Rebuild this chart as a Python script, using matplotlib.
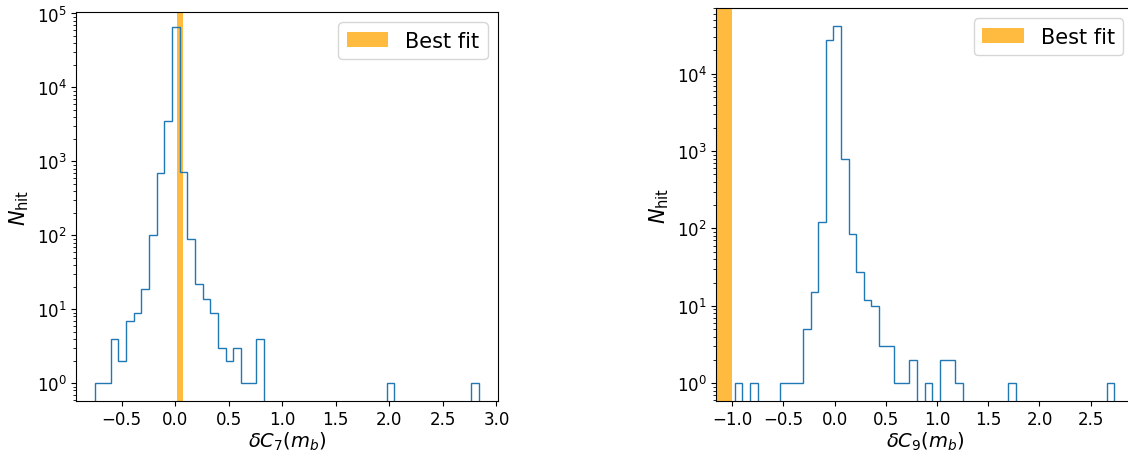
import matplotlib
matplotlib.use("Agg")
import matplotlib.pyplot as plt
from matplotlib.ticker import MultipleLocator
import numpy as np

# histogram of delta C7 (50 bins)
c7_range = (-0.746, 2.836)
c7_counts = [1, 1, 4, 2, 7, 9, 19, 100, 697, 3550,
             65000, 730, 89, 22, 14, 9, 3, 2, 3, 1,
             1, 4, 0, 0, 0, 0, 0, 0, 0, 0,
             0, 0, 0, 0, 0, 0, 0, 0, 1, 0,
             0, 0, 0, 0, 0, 0, 0, 0, 0, 1]
c7_best = (0.015, 0.077)

# histogram of delta C9 (50 bins)
c9_range = (-0.974, 2.731)
c9_counts = [1, 0, 1, 0, 0, 0, 1, 1, 1, 5,
             15, 121, 27500, 41700, 780, 84, 27, 12, 10, 3,
             3, 1, 1, 2, 0, 1, 0, 2, 2, 1,
             0, 0, 0, 0, 0, 0, 1, 0, 0, 0,
             0, 0, 0, 0, 0, 0, 0, 0, 0, 1]
c9_best = (-1.25, -1.0)

fig = plt.figure(figsize=(11.28, 4.52), dpi=100)
ax1 = fig.add_axes([0.0674, 0.1106, 0.3741, 0.8606])
ax2 = fig.add_axes([0.6348, 0.1106, 0.3701, 0.8695])


def draw(ax, rng, counts, best, xlabel):
    edges = np.linspace(rng[0], rng[1], len(counts) + 1)
    centers = 0.5 * (edges[:-1] + edges[1:])
    ax.hist(centers, bins=edges, weights=counts, histtype='step', log=True,
            color='C0', linewidth=1)
    ax.axvspan(best[0], best[1], color='orange', alpha=0.75, lw=0, label='Best fit')
    ax.set_xlabel(xlabel, fontsize=14, labelpad=1)
    ax.set_ylabel(r'$N_{\rm hit}$', fontsize=15)
    ax.tick_params(labelsize=12, pad=3)
    ax.xaxis.set_major_locator(MultipleLocator(0.5))
    ax.legend(loc='upper right', fontsize=15)


draw(ax1, c7_range, c7_counts, c7_best, r'$\delta C_7(m_b)$')
draw(ax2, c9_range, c9_counts, c9_best, r'$\delta C_9(m_b)$')
ax1.set_xlim(-0.925, 3.015)
ax2.set_xlim(-1.157, 2.918)
ax1.set_ylim(10**-0.24, 10**5.02)
ax2.set_ylim(10**-0.231, 10**4.85)

fig.savefig('out.png', dpi=100)
